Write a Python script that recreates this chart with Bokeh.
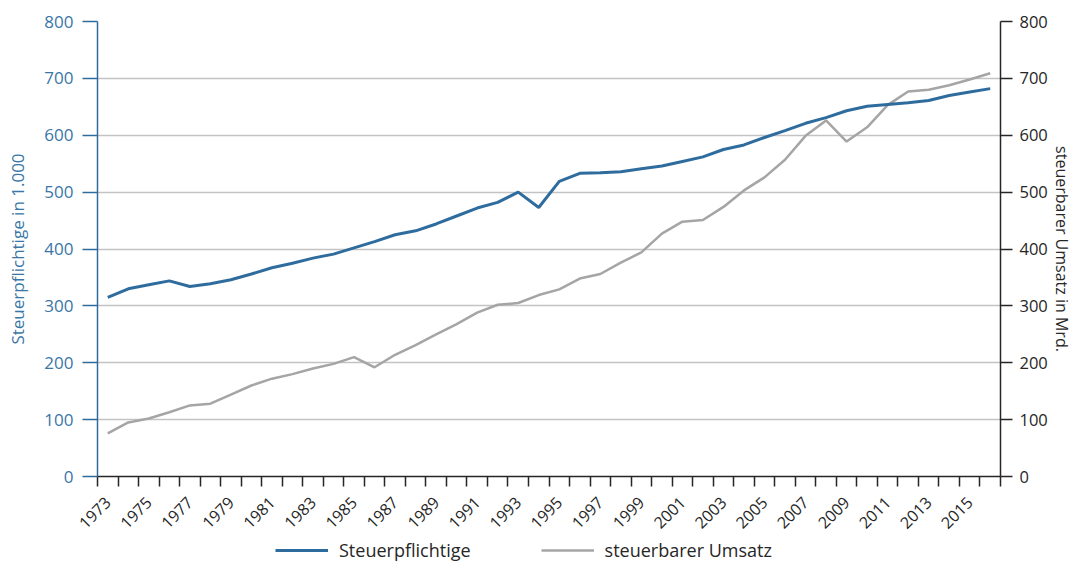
import math
from bokeh.plotting import figure
from bokeh.layouts import column
from bokeh.models import LinearAxis, Range1d, FixedTicker, Legend, LegendItem, ColumnDataSource
from bokeh.embed import file_html
from bokeh.resources import INLINE

years = list(range(1973, 2017))
steuerpflichtige = [315, 330, 337, 344, 334, 339, 346, 356, 367, 375, 384, 391, 402, 413,
                    425, 432, 444, 458, 472, 482, 500, 473, 519, 533, 534, 536, 541, 546,
                    554, 562, 575, 583, 596, 608, 621, 631, 643, 651, 654, 657, 661, 670,
                    676, 682]
umsatz = [76, 95, 102, 113, 125, 128, 144, 160, 172, 180, 190, 198, 210, 192,
          214, 231, 250, 268, 288, 302, 305, 319, 329, 348, 356, 376, 394, 427,
          448, 451, 474, 503, 526, 557, 599, 626, 589, 614, 653, 677, 680, 688,
          698, 709]
label_years = list(range(1973, 2016, 2))
y_ticks = list(range(0, 801, 100))

BLUE = "#2f6c9e"
BLUE_TXT = "#3a76a6"
GRAY = "#a5a5a5"
GRID = "#c3c3c3"
DARK = "#262626"
FONT = "Open Sans"

src = ColumnDataSource(dict(year=years, st=steuerpflichtige, um=umsatz))

p = figure(width=1075, height=536, output_backend="svg", toolbar_location=None,
           x_range=Range1d(1972.5, 2016.5), y_range=Range1d(0, 800),
           min_border_left=97, min_border_right=74, min_border_top=21, min_border_bottom=60)
p.extra_y_ranges = {"right": Range1d(0, 800)}
p.outline_line_color = None
p.background_fill_color = "white"
p.border_fill_color = "white"

# grid
p.xgrid.visible = False
p.ygrid.ticker = FixedTicker(ticks=[100, 200, 300, 400, 500, 600, 700])
p.ygrid.grid_line_color = GRID
p.ygrid.grid_line_width = 1.5

# x axis
xa = p.xaxis[0]
xa.ticker = FixedTicker(ticks=label_years, minor_ticks=[y - 0.5 for y in years] + [years[-1] + 0.5])
xa.major_tick_out = 0
xa.major_tick_in = 0
xa.minor_tick_out = 10
xa.minor_tick_in = 0
xa.minor_tick_line_color = DARK
xa.minor_tick_line_width = 1.5
xa.axis_line_color = DARK
xa.axis_line_width = 1.5
xa.major_label_orientation = math.pi / 4
xa.major_label_standoff = 13
xa.major_label_text_font = FONT
xa.major_label_text_font_size = "16px"
xa.major_label_text_color = DARK

# left axis
ya = p.yaxis[0]
ya.ticker = FixedTicker(ticks=y_ticks)
ya.minor_tick_line_color = None
ya.major_tick_out = 15
ya.major_tick_in = 0
ya.major_tick_line_color = BLUE
ya.major_tick_line_width = 1.5
ya.axis_line_color = BLUE
ya.axis_line_width = 1.5
ya.major_label_standoff = 9
ya.major_label_text_font = FONT
ya.major_label_text_font_size = "17px"
ya.major_label_text_color = BLUE_TXT
ya.axis_label = "Steuerpflichtige in 1.000"
ya.axis_label_text_font = FONT
ya.axis_label_text_font_size = "17px"
ya.axis_label_text_font_style = "normal"
ya.axis_label_text_color = BLUE_TXT
ya.axis_label_standoff = 12

# right axis
ra = LinearAxis(y_range_name="right")
ra.ticker = FixedTicker(ticks=y_ticks)
ra.minor_tick_line_color = None
ra.major_tick_out = 12
ra.major_tick_in = 0
ra.major_tick_line_color = DARK
ra.major_tick_line_width = 1.5
ra.axis_line_color = DARK
ra.axis_line_width = 1.5
ra.major_label_standoff = 7
ra.major_label_text_font = FONT
ra.major_label_text_font_size = "16.5px"
ra.major_label_text_color = DARK
ra.axis_label = "steuerbarer Umsatz in Mrd."
ra.axis_label_text_font = FONT
ra.axis_label_text_font_size = "16px"
ra.axis_label_text_font_style = "normal"
ra.axis_label_text_color = DARK
ra.axis_label_standoff = 0
p.add_layout(ra, "right")

p.line("year", "um", source=src, line_color=GRAY, line_width=2.5, y_range_name="right")
p.line("year", "st", source=src, line_color=BLUE, line_width=3)

# legend strip (separate small figure; its lines fall outside its ranges)
lg = figure(width=1075, height=26, output_backend="svg", toolbar_location=None,
            x_range=Range1d(0, 1), y_range=Range1d(0, 1),
            x_axis_type=None, y_axis_type=None,
            min_border_left=0, min_border_right=0, min_border_top=0, min_border_bottom=0)
lg.outline_line_color = None
lg.grid.visible = False
l_st = lg.line("year", "st", source=src, line_color=BLUE, line_width=3)
l_um = lg.line("year", "um", source=src, line_color=GRAY, line_width=2.5)
legend = Legend(items=[LegendItem(label="Steuerpflichtige", renderers=[l_st]),
                       LegendItem(label="steuerbarer Umsatz", renderers=[l_um])],
                orientation="horizontal", location=(178, 0),
                border_line_color=None, background_fill_alpha=0, padding=0, margin=0,
                spacing=70, glyph_width=53, glyph_height=20, label_standoff=11,
                label_text_font=FONT, label_text_font_size="18px", label_text_color=DARK)
lg.add_layout(legend, "center")

open("out.html", "w").write(file_html(column(p, lg, spacing=0), INLINE))
